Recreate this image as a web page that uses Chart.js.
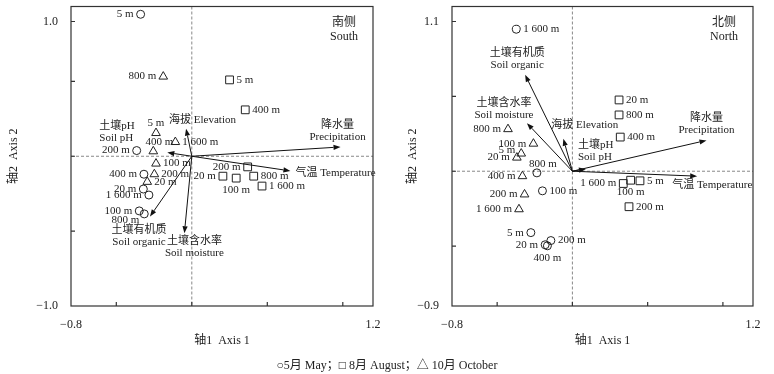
<!DOCTYPE html>
<html>
<head>
<meta charset="utf-8">
<script src="https://cdn.jsdelivr.net/npm/chart.js@4.4.1/dist/chart.umd.min.js"></script>
<style>
  body { margin: 0; background: #fff; width: 774px; height: 374px; position: relative; overflow: hidden; }
  canvas { position: absolute; top: 0; }
  #south { left: 0; }
  #north { left: 387px; }
  #legend { position: absolute; left: 0; width: 774px; top: 355px; line-height: 16px; text-align: center;
            font: 12px "Liberation Serif", "Noto Sans CJK SC", serif; color: #222; }
</style>
</head>
<body>
<canvas id="south" width="387" height="374"></canvas>
<canvas id="north" width="387" height="374"></canvas>
<div id="legend">○5月 May；□ 8月 August；△ 10月 October</div>
<script>
// ---- data ----
const envZh = ['海拔', '土壤pH', '降水量', '气温', '土壤有机质', '土壤含水率'];
const envEn = ['Elevation', 'Soil pH', 'Precipitation', 'Temperature', 'Soil organic', 'Soil moisture'];

// South side
const southEnvX = [-0.038, -0.162, 0.985, 0.653, -0.277, -0.049];
const southEnvY = [0.184, 0.025, 0.062, -0.098, -0.403, -0.514];
const southMayAlt = ['5 m', '200 m', '400 m', '20 m', '1 600 m', '100 m', '800 m'];
const southMayX = [-0.339, -0.365, -0.317, -0.321, -0.284, -0.348, -0.315];
const southMayY = [0.948, 0.038, -0.120, -0.219, -0.259, -0.365, -0.385];
const southAugAlt = ['5 m', '400 m', '200 m', '20 m', '100 m', '800 m', '1 600 m'];
const southAugX = [0.250, 0.354, 0.370, 0.206, 0.294, 0.410, 0.465];
const southAugY = [0.510, 0.310, -0.071, -0.133, -0.146, -0.133, -0.199];
const southOctAlt = ['800 m', '5 m', '1 600 m', '400 m', '100 m', '200 m', '20 m'];
const southOctX = [-0.189, -0.237, -0.109, -0.255, -0.237, -0.248, -0.295];
const southOctY = [0.532, 0.155, 0.095, 0.033, -0.049, -0.120, -0.171];

// North side
const northEnvX = [-0.060, 0.090, 0.891, 0.829, -0.314, -0.302];
const northEnvY = [0.217, 0.015, 0.206, -0.033, 0.644, 0.321];
const northMayAlt = ['1 600 m', '800 m', '100 m', '5 m', '200 m', '20 m', '400 m'];
const northMayX = [-0.373, -0.236, -0.199, -0.276, -0.143, -0.181, -0.166];
const northMayY = [0.948, -0.011, -0.131, -0.410, -0.463, -0.491, -0.498];
const northAugAlt = ['20 m', '800 m', '400 m', '1 600 m', '100 m', '5 m', '200 m'];
const northAugX = [0.310, 0.310, 0.318, 0.338, 0.387, 0.449, 0.376];
const northAugY = [0.476, 0.376, 0.228, -0.082, -0.060, -0.064, -0.237];
const northOctAlt = ['800 m', '100 m', '5 m', '20 m', '400 m', '200 m', '1 600 m'];
const northOctX = [-0.428, -0.259, -0.340, -0.369, -0.332, -0.318, -0.355];
const northOctY = [0.281, 0.184, 0.118, 0.091, -0.033, -0.155, -0.254];

// axis ticks
const xRange = [-0.8, 1.2];
const xTickLabels = ['−0.8', '1.2'];
const xMarks = [-0.5, 0, 0.5, 1.0];
const southYRange = [-1.0, 1.0];
const southYTickLabels = ['−1.0', '1.0'];
const southYMarks = [0.9, 0.5, 0, -0.5];
const northYRange = [-0.9, 1.1];
const northYTickLabels = ['−0.9', '1.1'];
const northYMarks = [1.0, 0.5, 0, -0.5];

// ---- label placement (layout only) ----
const POS = { r: [7, 0, 'left'], l: [-7, 0, 'right'], a: [0, -10, 'center'], b: [0, 12, 'center'],
              lb: [-5, 6, 'right'], ar: [6, -9, 'center'], la: [-6, -3, 'right'] };
const southPos = [['l','l','l','l','l','l','lb'], ['r','r','l','l','b','r','r'], ['l','a','r','ar','r','r','r']];
const northPos = [['r','ar','r','l','r','l','b'], ['r','r','r','l','b','r','r'], ['l','l','la','l','l','l','l']];
const southEnvLab = [
  { dx: -17, dy: -9, align: 'left', one: true },
  { dx: -68, dy: -26, align: 'left' },
  { dx: -3, dy: -22, align: 'center' },
  { dx: 5, dy: 2, align: 'left', one: true },
  { dx: -11, dy: 14, align: 'center' },
  { dx: 10, dy: 8, align: 'center' }
];
const northEnvLab = [
  { dx: -12, dy: -14, align: 'left', one: true },
  { dx: -8, dy: -24, align: 'left' },
  { dx: 0, dy: -22, align: 'center' },
  { dx: -25, dy: 9, align: 'left', one: true },
  { dx: -8, dy: -22, align: 'center' },
  { dx: -23, dy: -20, align: 'center' }
];

const FONT = '"Liberation Serif", "Noto Sans CJK SC", serif';
const INK = '#222';

const sketch = {
  id: 'sketch',
  beforeDatasetsDraw(chart, args, o) {
    const { ctx, chartArea: a } = chart;
    const x0 = chart.scales.x.getPixelForValue(0), y0 = chart.scales.y.getPixelForValue(0);
    ctx.save();
    ctx.strokeStyle = '#888'; ctx.lineWidth = 1; ctx.setLineDash([3, 2]);
    ctx.beginPath();
    ctx.moveTo(x0, a.top); ctx.lineTo(x0, a.bottom);
    ctx.moveTo(a.left, y0); ctx.lineTo(a.right, y0);
    ctx.stroke();
    ctx.restore();
  },
  afterDraw(chart, args, o) {
    const { ctx, chartArea: a } = chart;
    const sx = chart.scales.x, sy = chart.scales.y;
    const x0 = sx.getPixelForValue(0), y0 = sy.getPixelForValue(0);
    ctx.save();
    // frame and inward ticks
    ctx.strokeStyle = '#333'; ctx.lineWidth = 1.2;
    ctx.strokeRect(a.left, a.top, a.right - a.left, a.bottom - a.top);
    ctx.beginPath();
    o.xMarks.forEach(v => { const p = sx.getPixelForValue(v); ctx.moveTo(p, a.bottom); ctx.lineTo(p, a.bottom - 4); });
    o.yMarks.forEach(v => { const p = sy.getPixelForValue(v); ctx.moveTo(a.left, p); ctx.lineTo(a.left + 4, p); });
    ctx.stroke();

    // environment arrows
    ctx.font = '11px ' + FONT;
    ctx.textBaseline = 'middle';
    ctx.lineWidth = 1;
    ctx.strokeStyle = '#111'; ctx.fillStyle = '#111';
    o.envX.forEach((vx, i) => {
      const tx = sx.getPixelForValue(vx), ty = sy.getPixelForValue(o.envY[i]);
      const ang = Math.atan2(ty - y0, tx - x0);
      const hl = 7, hw = 2.6;
      const bx = tx - hl * Math.cos(ang), by = ty - hl * Math.sin(ang);
      ctx.beginPath(); ctx.moveTo(x0, y0); ctx.lineTo(bx, by); ctx.stroke();
      ctx.beginPath();
      ctx.moveTo(tx, ty);
      ctx.lineTo(bx - hw * Math.sin(ang), by + hw * Math.cos(ang));
      ctx.lineTo(bx + hw * Math.sin(ang), by - hw * Math.cos(ang));
      ctx.closePath(); ctx.fill();
      const lab = o.envLab[i];
      ctx.save();
      ctx.fillStyle = INK;
      ctx.textAlign = lab.align;
      if (lab.one) {
        ctx.fillText(envZh[i] + ' ' + envEn[i], tx + lab.dx, ty + lab.dy);
      } else {
        ctx.fillText(envZh[i], tx + lab.dx, ty + lab.dy);
        ctx.fillText(envEn[i], tx + lab.dx, ty + lab.dy + 12);
      }
      ctx.restore();
    });

    // site labels
    ctx.fillStyle = INK;
    o.alt.forEach((names, d) => {
      chart.getDatasetMeta(d).data.forEach((pt, j) => {
        const p = POS[o.pos[d][j]];
        ctx.textAlign = p[2];
        ctx.fillText(names[j], pt.x + p[0], pt.y + p[1]);
      });
    });

    // panel name
    ctx.textAlign = 'center';
    ctx.font = '12px ' + FONT;
    ctx.fillText(o.name[0], a.right - 29, a.top + 16);
    ctx.fillText(o.name[1], a.right - 29, a.top + 30);
    ctx.restore();
  }
};

function series(xs, ys, style, r) {
  return {
    data: xs.map((x, i) => ({ x: x, y: ys[i] })),
    pointStyle: style, pointRadius: r, pointHoverRadius: r,
    borderColor: INK, backgroundColor: 'rgba(0,0,0,0)', borderWidth: 1, showLine: false
  };
}

function makeChart(id, p) {
  return new Chart(document.getElementById(id), {
    type: 'scatter',
    data: { datasets: [
      series(p.mayX, p.mayY, 'circle', 4),
      series(p.augX, p.augY, 'rect', 5.5),
      series(p.octX, p.octY, 'triangle', 5)
    ] },
    options: {
      responsive: false, animation: false, devicePixelRatio: 1,
      layout: { padding: { left: 0, top: 5, right: p.padRight, bottom: 22 } },
      plugins: {
        legend: { display: false }, tooltip: { enabled: false },
        sketch: { envX: p.envX, envY: p.envY, envLab: p.envLab, alt: p.alt, pos: p.pos,
                  xMarks: xMarks, yMarks: p.yMarks, name: p.name }
      },
      scales: {
        x: {
          type: 'linear', min: xRange[0], max: xRange[1],
          grid: { display: false }, border: { display: false },
          afterBuildTicks: s => { s.ticks = xRange.map(v => ({ value: v })); },
          afterFit: s => { s.height = 46; s.paddingLeft = 0; s.paddingRight = 0; },
          ticks: { autoSkip: false, maxRotation: 0, padding: 4, color: INK, font: { family: FONT, size: 12 },
                   callback: (v, i) => xTickLabels[i] },
          title: { display: true, text: '轴1  Axis 1', color: INK, font: { family: FONT, size: 12 }, padding: { top: 0, bottom: 4 } }
        },
        y: {
          type: 'linear', min: p.yRange[0], max: p.yRange[1],
          grid: { display: false }, border: { display: false },
          afterBuildTicks: s => { s.ticks = [{ value: p.yRange[0] }, { value: p.yRange[1] - 0.1 }]; },
          afterFit: s => { s.width = p.yWidth; s.paddingTop = 0; s.paddingBottom = 0; },
          ticks: { autoSkip: false, padding: 5, color: INK, font: { family: FONT, size: 12 },
                   callback: (v, i) => p.yTickLabels[i] },
          title: { display: true, text: '轴2  Axis 2', color: INK, font: { family: FONT, size: 12 }, padding: { top: p.yTitlePad, bottom: 0 } }
        }
      }
    },
    plugins: [sketch]
  });
}

makeChart('south', {
  mayX: southMayX, mayY: southMayY, augX: southAugX, augY: southAugY, octX: southOctX, octY: southOctY,
  alt: [southMayAlt, southAugAlt, southOctAlt], pos: southPos,
  envX: southEnvX, envY: southEnvY, envLab: southEnvLab,
  yRange: southYRange, yTickLabels: southYTickLabels, yMarks: southYMarks,
  name: ['南侧', 'South'], padRight: 14, yWidth: 71, yTitlePad: 7
});

makeChart('north', {
  mayX: northMayX, mayY: northMayY, augX: northAugX, augY: northAugY, octX: northOctX, octY: northOctY,
  alt: [northMayAlt, northAugAlt, northOctAlt], pos: northPos,
  envX: northEnvX, envY: northEnvY, envLab: northEnvLab,
  yRange: northYRange, yTickLabels: northYTickLabels, yMarks: northYMarks,
  name: ['北侧', 'North'], padRight: 21, yWidth: 65, yTitlePad: 19
});
</script>
</body>
</html>
